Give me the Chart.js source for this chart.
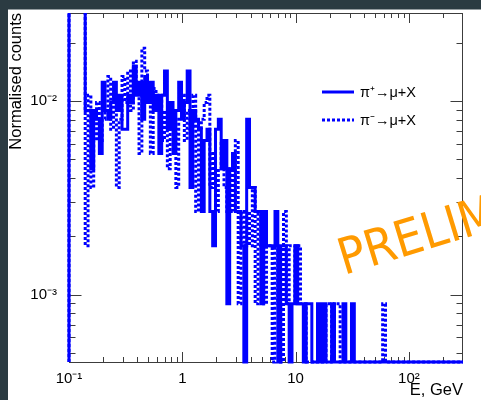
<!DOCTYPE html>
<html>
<head>
<meta charset="utf-8">
<script src="https://cdn.jsdelivr.net/npm/chart.js@4.4.0/dist/chart.umd.min.js"></script>
<style>
  html, body { margin: 0; padding: 0; background: #2b3b42; }
  #wrap { width: 481px; height: 400px; }
</style>
</head>
<body>
<div id="wrap"><canvas id="spectrum" width="481" height="400"></canvas></div>
<script>
// muon energy from pion decays, normalised counts, log binning
const seriesNames = ['π⁺→μ+X', 'π⁻→μ+X'];
const xRange = [0.1, 300];
const yRange = [4.48e-4, 0.0286];
const binStart = 0.139;       // first regular bin edge, GeV
const binsPerDecade = 40;
const countUnit = 1 / 1117;   // one entry after normalisation
const firstBinCounts = 60;    // 0.1 - 0.139 GeV bin, off the top

const piPlusCounts = [
  10, 10, 5, 10, 9, 6, 14, 10, 9, 11,
  14, 10, 12, 8, 8, 12, 11, 17, 12, 14,
  9, 15, 11, 14, 10, 12, 6, 12, 16, 8,
  11, 6, 10, 14, 9, 11, 16, 4, 10, 9,
  8, 3, 7, 8, 3, 2, 8, 9, 5, 7,
  1, 5, 6, 3, 3, 2, 0, 9, 4, 4,
  3, 3, 1, 3, 2, 2, 2, 3, 0, 2,
  2, 1, 0, 1, 2, 1, 1, 0, 1, 1,
  0, 0, 1, 0, 1, 0, 0, 1, 0, 0,
  0, 1, 0, 0, 1, 0, 0, 0, 0, 0,
  0, 0, 0, 0, 0, 0, 0, 0, 0, 0,
  0, 0, 0, 0, 0, 0, 0, 0, 0, 0,
  0, 0, 0, 0, 0, 0, 0, 0, 0, 0,
  0, 0, 0, 0
];
const piMinusCounts = [
  2, 12, 4, 7, 11, 7, 9, 10, 15, 8,
  11, 4, 9, 15, 11, 16, 10, 18, 13, 6,
  21, 16, 12, 6, 13, 11, 12, 7, 10, 5,
  9, 8, 4, 9, 12, 7, 10, 8, 12, 3,
  8, 9, 11, 12, 4, 6, 3, 5, 7, 4,
  3, 5, 3, 7, 1, 3, 2, 3, 2, 4,
  1, 3, 2, 1, 2, 2, 0, 2, 1, 0,
  3, 1, 2, 2, 1, 2, 1, 1, 0, 0,
  0, 0, 0, 0, 0, 1, 1, 0, 1, 1,
  0, 0, 0, 0, 0, 0, 0, 0, 0, 0,
  0, 0, 0, 0, 0, 1, 0, 0, 0, 0,
  0, 0, 0, 0, 0, 0, 0, 0, 0, 0,
  0, 0, 0, 0, 0, 0, 0, 0, 0, 0,
  0, 0, 0, 0
];

// histogram outline as step points at the low edge of each bin
function histPoints(counts) {
  const floor = yRange[0];
  const pts = [{x: xRange[0], y: floor}, {x: xRange[0], y: firstBinCounts * countUnit}];
  counts.forEach((c, i) => {
    pts.push({x: binStart * Math.pow(10, i / binsPerDecade), y: c > 0 ? c * countUnit : floor});
  });
  pts.push({x: binStart * Math.pow(10, counts.length / binsPerDecade), y: floor});
  return pts;
}

const sup = {'-': '⁻', '0': '⁰', '1': '¹', '2': '²', '3': '³', '4': '⁴'};
function decadeLabel(value) {
  const e = Math.log10(value);
  if (Math.abs(e - Math.round(e)) > 1e-6) return '';
  const n = Math.round(e);
  if (n === 0) return '1';
  if (n === 1) return '10';
  return '10' + String(n).split('').map(ch => sup[ch]).join('');
}

const labelFont = {family: "'Liberation Sans', Arial, sans-serif", size: 15};
const titleFont = {family: "'Liberation Sans', Arial, sans-serif", size: 16.5};

const frameAndTicks = {
  id: 'frameAndTicks',
  beforeDraw(chart) {
    const ctx = chart.ctx;
    ctx.save();
    ctx.fillStyle = '#ffffff';
    ctx.fillRect(0, 0, chart.width, chart.height);
    ctx.restore();
  },
  beforeDatasetsDraw(chart) {
    const {ctx, chartArea: a, scales: {x, y}} = chart;
    ctx.save();
    ctx.strokeStyle = '#3c3c3c';
    ctx.lineWidth = 1;
    ctx.strokeRect(a.left + 0.5, a.top + 0.5, a.right - a.left - 1, a.bottom - a.top);
    ctx.beginPath();
    for (let d = -1; d <= 2; d++) {
      for (let k = 1; k <= 9; k++) {
        const v = k * Math.pow(10, d);
        if (v <= xRange[0] || v >= xRange[1]) continue;
        const px = Math.round(x.getPixelForValue(v)) + 0.5;
        const len = k === 1 ? 10 : 5;
        ctx.moveTo(px, a.bottom); ctx.lineTo(px, a.bottom - len);
        ctx.moveTo(px, a.top); ctx.lineTo(px, a.top + len);
      }
    }
    for (let d = -4; d <= -2; d++) {
      for (let k = 1; k <= 9; k++) {
        const v = k * Math.pow(10, d);
        if (v <= yRange[0] || v >= yRange[1]) continue;
        const py = Math.round(y.getPixelForValue(v)) + 0.5;
        const len = k === 1 ? 12.5 : 6.5;
        ctx.moveTo(a.left, py); ctx.lineTo(a.left + len, py);
        ctx.moveTo(a.right, py); ctx.lineTo(a.right - len, py);
      }
    }
    ctx.stroke();
    ctx.restore();
  },
  afterDatasetsDraw(chart) {
    const ctx = chart.ctx;
    ctx.save();
    // legend
    const rows = [92, 120];
    chart.data.datasets.forEach((ds, i) => {
      ctx.strokeStyle = ds.borderColor;
      ctx.lineWidth = ds.borderWidth;
      ctx.setLineDash(ds.borderDash || []);
      ctx.beginPath();
      ctx.moveTo(322, rows[i]);
      ctx.lineTo(354, rows[i]);
      ctx.stroke();
      ctx.setLineDash([]);
      ctx.fillStyle = '#000';
      ctx.font = "14.5px 'Liberation Sans', Arial, sans-serif";
      ctx.textBaseline = 'middle';
      ctx.fillText(ds.label, 360, rows[i] + 1);
    });
    // watermark
    ctx.translate(344, 275);
    ctx.rotate(-17 * Math.PI / 180);
    ctx.fillStyle = '#ff9a00';
    ctx.font = "condensed 50px 'DejaVu Sans', sans-serif";
    ctx.fontStretch = 'condensed';
    ctx.textBaseline = 'alphabetic';
    ctx.fillText('PRELIMINARY', 0, 0);
    ctx.restore();
  },
  afterDraw(chart) {
    const ctx = chart.ctx;
    ctx.save();
    ctx.fillStyle = '#2b3b42';
    ctx.fillRect(0, 0, chart.width, 9.5);
    ctx.fillRect(0, 0, 8, chart.height);
    ctx.restore();
  }
};

new Chart(document.getElementById('spectrum').getContext('2d'), {
  type: 'line',
  data: {
    datasets: [
      {
        label: seriesNames[0],
        data: histPoints(piPlusCounts),
        borderColor: '#0000ff',
        borderWidth: 3,
        stepped: 'before',
        pointRadius: 0,
        fill: false,
        clip: {left: 2, top: 0, right: 0, bottom: 2}
      },
      {
        label: seriesNames[1],
        data: histPoints(piMinusCounts),
        borderColor: '#0000ff',
        borderWidth: 3,
        borderDash: [3, 2],
        stepped: 'before',
        pointRadius: 0,
        fill: false,
        clip: {left: 2, top: 0, right: 0, bottom: 2}
      }
    ]
  },
  options: {
    responsive: false,
    animation: false,
    devicePixelRatio: 1,
    layout: {padding: {top: 10, right: 18, left: 0, bottom: 0}},
    plugins: {legend: {display: false}, tooltip: {enabled: false}},
    scales: {
      x: {
        type: 'logarithmic',
        min: xRange[0],
        max: xRange[1],
        grid: {display: false},
        border: {display: false},
        ticks: {autoSkip: false, maxRotation: 0, padding: 0, color: '#000', font: labelFont, callback: decadeLabel},
        title: {display: true, text: 'E, GeV', align: 'end', color: '#000', font: titleFont, padding: {top: 0, bottom: 0}},
        afterFit: s => { s.height = 38; }
      },
      y: {
        type: 'logarithmic',
        min: yRange[0],
        max: yRange[1],
        grid: {display: false},
        border: {display: false},
        ticks: {autoSkip: false, padding: 4, color: '#000', font: labelFont, callback: decadeLabel},
        title: {display: true, text: 'Normalised counts', align: 'end', color: '#000', font: titleFont, padding: {top: 7, bottom: 0}},
        afterFit: s => { s.width = 69; }
      }
    }
  },
  plugins: [frameAndTicks]
});
</script>
</body>
</html>
